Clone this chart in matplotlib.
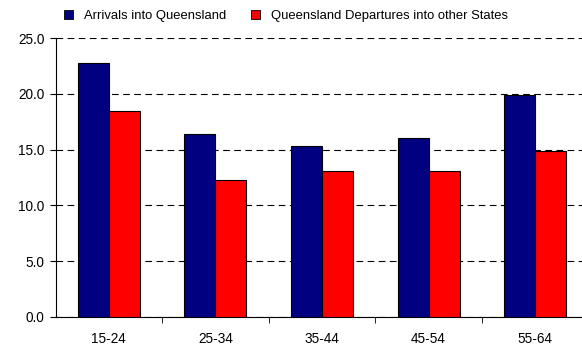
import matplotlib.pyplot as plt
import numpy as np
from matplotlib.patches import Patch

plt.rcParams['font.family'] = ['Liberation Sans', 'DejaVu Sans']

age_groups = ["15-24", "25-34", "35-44", "45-54", "55-64"]
arrivals = [22.8, 16.4, 15.3, 16.0, 19.9]
departures = [18.5, 12.3, 13.1, 13.1, 14.9]
series_names = ["Arrivals into Queensland", "Queensland Departures into other States"]

fig = plt.figure(figsize=(5.82, 3.45), dpi=100)
# plot area runs slightly past the right edge, like the original
ax = fig.add_axes([55.5 / 582, 28 / 345, 533 / 582, 279 / 345])

x = np.arange(len(age_groups))
w = 0.29
ax.bar(x - w / 2, arrivals, w, color='#000080', edgecolor='black', linewidth=0.8, zorder=3)
ax.bar(x + w / 2, departures, w, color='#ff0000', edgecolor='black', linewidth=0.8, zorder=3)

ax.set_xlim(-0.5, len(age_groups) - 0.5)
ax.set_ylim(0, 25)
ax.set_yticks(np.arange(0, 25.1, 5))
ax.set_yticklabels([f"{v:.1f}" for v in np.arange(0, 25.1, 5)], fontsize=9.8)
ax.set_xticks(x)
ax.set_xticklabels(age_groups, fontsize=9.8)
ax.tick_params(axis='x', length=0, pad=11)
ax.set_xticks(np.arange(0.5, len(age_groups) - 0.5), minor=True)
ax.tick_params(axis='x', which='minor', length=4, direction='out')
ax.tick_params(axis='y', length=4.5, direction='out', pad=3.5)

ax.yaxis.grid(True, linestyle=(0, (6, 4)), color='black', linewidth=0.8, zorder=0)
ax.set_axisbelow(True)
for s in ['top', 'right']:
    ax.spines[s].set_visible(False)
ax.spines['left'].set_linewidth(0.8)
ax.spines['bottom'].set_linewidth(0.8)

handles = [Patch(facecolor='#000080', edgecolor='black', linewidth=0.6),
           Patch(facecolor='#ff0000', edgecolor='black', linewidth=0.6)]
fig.legend(handles, series_names, loc='center', bbox_to_anchor=(286 / 582, 1 - 16 / 345),
           ncol=2, frameon=False, fontsize=9.4, handlelength=0.69, handleheight=0.69,
           handletextpad=0.84, columnspacing=1.9)

fig.savefig('out.png', dpi=100)
